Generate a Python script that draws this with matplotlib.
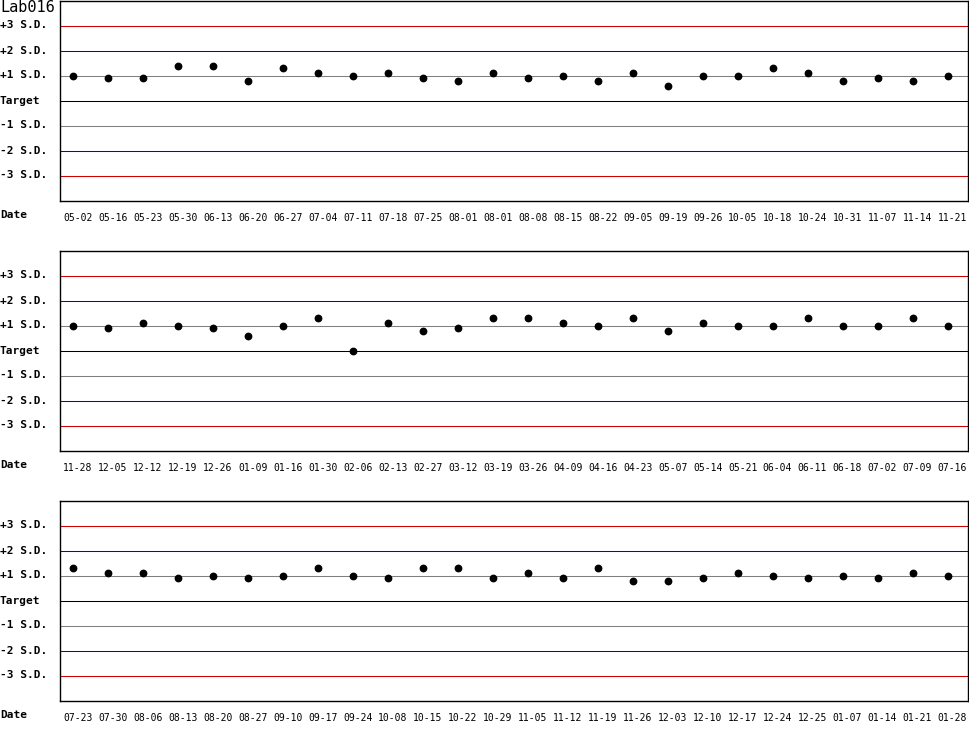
import matplotlib.pyplot as plt
import matplotlib.transforms as mtransforms
import numpy as np

title = "Lab016"

dates_1 = ["05-02", "05-16", "05-23", "05-30", "06-13", "06-20", "06-27", "07-04", "07-11",
           "07-18", "07-25", "08-01", "08-01", "08-08", "08-15", "08-22", "09-05", "09-19",
           "09-26", "10-05", "10-18", "10-24", "10-31", "11-07", "11-14", "11-21"]
sd_1 = [1.0, 0.9, 0.9, 1.4, 1.4, 0.8, 1.3, 1.1, 1.0, 1.1, 0.9, 0.8, 1.1,
        0.9, 1.0, 0.8, 1.1, 0.6, 1.0, 1.0, 1.3, 1.1, 0.8, 0.9, 0.8, 1.0]

dates_2 = ["11-28", "12-05", "12-12", "12-19", "12-26", "01-09", "01-16", "01-30", "02-06",
           "02-13", "02-27", "03-12", "03-19", "03-26", "04-09", "04-16", "04-23", "05-07",
           "05-14", "05-21", "06-04", "06-11", "06-18", "07-02", "07-09", "07-16"]
sd_2 = [1.0, 0.9, 1.1, 1.0, 0.9, 0.6, 1.0, 1.3, 0.0, 1.1, 0.8, 0.9, 1.3,
        1.3, 1.1, 1.0, 1.3, 0.8, 1.1, 1.0, 1.0, 1.3, 1.0, 1.0, 1.3, 1.0]

dates_3 = ["07-23", "07-30", "08-06", "08-13", "08-20", "08-27", "09-10", "09-17", "09-24",
           "10-08", "10-15", "10-22", "10-29", "11-05", "11-12", "11-19", "11-26", "12-03",
           "12-10", "12-17", "12-24", "12-25", "01-07", "01-14", "01-21", "01-28"]
sd_3 = [1.3, 1.1, 1.1, 0.9, 1.0, 0.9, 1.0, 1.3, 1.0, 0.9, 1.3, 1.3, 0.9,
        1.1, 0.9, 1.3, 0.8, 0.8, 0.9, 1.1, 1.0, 0.9, 1.0, 0.9, 1.1, 1.0]

sd_levels = [3, 2, 1, 0, -1, -2, -3]
sd_labels = ["+3 S.D.", "+2 S.D.", "+1 S.D.", "Target", "-1 S.D.", "-2 S.D.", "-3 S.D."]
sd_colors = ["#cc0000", "#0000ff", "#808080", "#000000", "#808080", "#0000ff", "#cc0000"]

W, H = 970, 750
fig = plt.figure(figsize=(W / 100, H / 100), dpi=100)
mono = "DejaVu Sans Mono"

panels = [(dates_1, sd_1), (dates_2, sd_2), (dates_3, sd_3)]
for k, (dates, vals) in enumerate(panels):
    top = 250 * k
    ax = fig.add_axes([60.5 / W, 1 - (top + 200.5) / H, 908 / W, 200 / H])
    x = np.arange(len(dates))

    for lvl, c in zip(sd_levels, sd_colors):
        ax.axhline(lvl, color=c, linewidth=0.75, zorder=1)

    ax.plot(x, vals, 'o', color='black', markersize=4.6, zorder=3)

    ax.set_xlim(-0.35, 25.6)
    ax.set_ylim(-4, 4)
    ax.set_yticks([])
    ax.set_xticks(x, dates)
    ax.tick_params(axis='x', length=0, pad=9, labelsize=7)
    shift = mtransforms.ScaledTranslation(5 / 100, 0, fig.dpi_scale_trans)
    for lbl in ax.get_xticklabels():
        lbl.set_fontfamily(mono)
        lbl.set_transform(lbl.get_transform() + shift)
    for s in ax.spines.values():
        s.set_linewidth(1.0)
        s.set_color('black')

    trans = mtransforms.blended_transform_factory(fig.transFigure, ax.transData)
    for lvl, txt in zip(sd_levels, sd_labels):
        ax.text(0.0, lvl, txt, transform=trans, ha='left', va='center',
                fontsize=8, fontweight='bold', family=mono)
    trans_ax = mtransforms.blended_transform_factory(fig.transFigure, ax.transAxes)
    ax.text(0.0, -0.075, "Date", transform=trans_ax, ha='left', va='center',
            fontsize=8, fontweight='bold', family=mono)

fig.text(0.0, 1 - 8 / H, title, ha='left', va='center', fontsize=11, family=mono)

plt.savefig("out.png", dpi=100)
